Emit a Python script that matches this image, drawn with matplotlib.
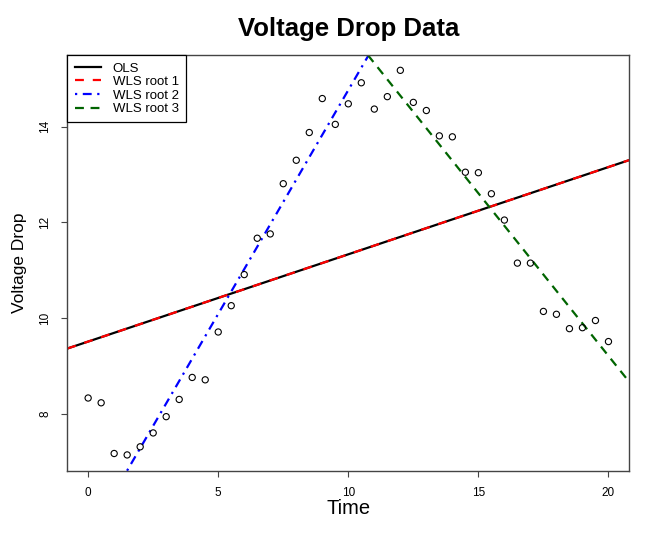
import matplotlib
matplotlib.use('Agg')
import matplotlib.pyplot as plt
import numpy as np

# voltage drop measurements
time = np.arange(0, 20.5, 0.5)
voltage = [8.33, 8.23, 7.17, 7.14, 7.31, 7.60, 7.94, 8.30, 8.76, 8.71,
           9.71, 10.26, 10.91, 11.67, 11.76, 12.81, 13.30, 13.88, 14.59, 14.05,
           14.48, 14.92, 14.37, 14.63, 15.18, 14.51, 14.34, 13.81, 13.79, 13.05,
           13.04, 12.60, 12.05, 11.15, 11.15, 10.14, 10.08, 9.78, 9.80, 9.95,
           9.51]

# fitted lines (intercept, slope)
fit_names = ["OLS", "WLS root 1", "WLS root 2", "WLS root 3"]
fit_intercepts = [9.51, 9.51, 5.41, 22.81]
fit_slopes = [0.1824, 0.1824, 0.9357, -0.680]
fit_colors = ["black", "red", "blue", "darkgreen"]
fit_dashes = [None, (4, 4), (1, 2.5, 4, 2.5), (4, 3)]

plt.rcParams['font.family'] = ['Liberation Sans', 'DejaVu Sans']

fig = plt.figure(figsize=(6.64, 5.4), dpi=100)
ax = fig.add_axes([0.1014, 0.1283, 0.8463, 0.7698])

ax.scatter(time, voltage, s=20, facecolors='none', edgecolors='black',
           linewidths=0.8, zorder=3)

for name, b, m, col, dash in zip(fit_names, fit_intercepts, fit_slopes,
                                 fit_colors, fit_dashes):
    line = ax.axline((0, b), slope=m, color=col, lw=1.6, label=name, zorder=2)
    if dash is not None:
        line.set_dashes(dash)

ax.set_xlim(-0.8, 20.8)
ax.set_ylim(6.81, 15.5)
ax.set_xticks([0, 5, 10, 15, 20])
ax.set_yticks([8, 10, 12, 14])

for sp in ax.spines.values():
    sp.set_color('#444444')
    sp.set_linewidth(1.0)
ax.tick_params(axis='both', length=4.5, width=0.8, color='#444444',
               labelsize=8.5)
ax.tick_params(axis='x', pad=7)
ax.tick_params(axis='y', pad=7)
for lab in ax.get_yticklabels():
    lab.set_rotation(90)
    lab.set_va('center')

ax.set_title("Voltage Drop Data", fontsize=18.5, fontweight='bold', pad=14)
ax.set_xlabel("Time", fontsize=14.5, labelpad=0)
ax.set_ylabel("Voltage Drop", fontsize=12.5, labelpad=9)

leg = ax.legend(loc='upper left', borderaxespad=0, fancybox=False,
                framealpha=1, edgecolor='black', fontsize=9.5,
                handlelength=2.0, handletextpad=0.9, labelspacing=0.1,
                borderpad=0.55)
leg.get_frame().set_linewidth(0.9)

fig.savefig("out.png", dpi=100)
